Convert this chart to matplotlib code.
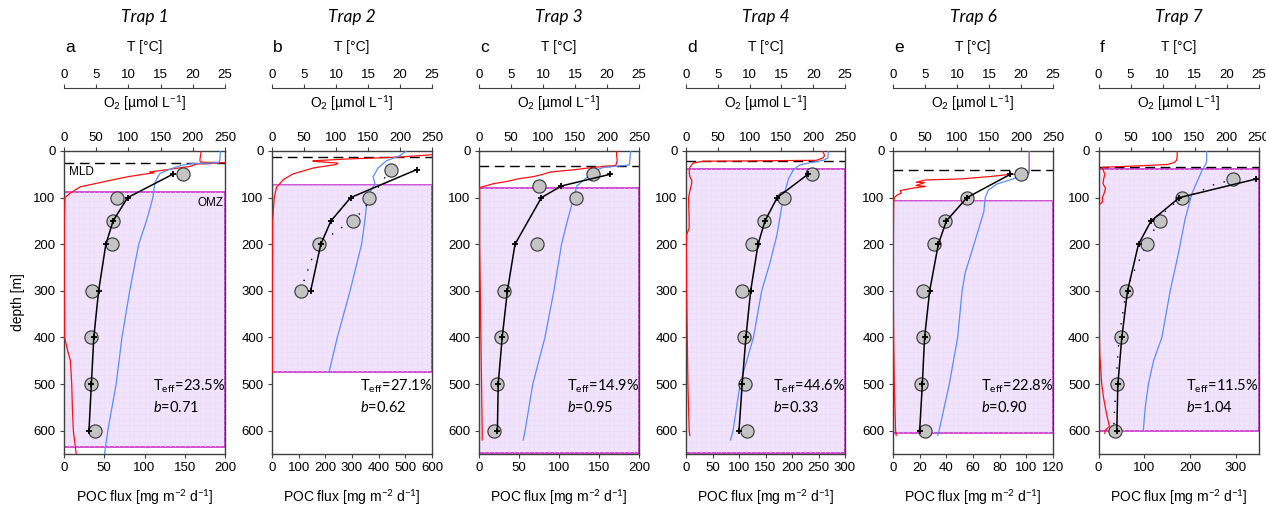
import matplotlib.pyplot as plt
import matplotlib.patches as mpatches
import numpy as np

plt.rcParams['font.family'] = ['Liberation Sans', 'DejaVu Sans']
plt.rcParams['mathtext.fontset'] = 'custom'
plt.rcParams['mathtext.rm'] = 'Lato'
plt.rcParams['mathtext.it'] = 'Lato:italic'

titles = ['Trap 1', 'Trap 2', 'Trap 3', 'Trap 4', 'Trap 6', 'Trap 7']
letters = ['a', 'b', 'c', 'd', 'e', 'f']
poc_xlim = [200, 600, 200, 300, 120, 350]
poc_ticks = [[0, 50, 100, 150, 200], [0, 100, 200, 300, 400, 500, 600],
             [0, 50, 100, 150, 200], [0, 50, 100, 150, 200, 250, 300],
             [0, 20, 40, 60, 80, 100, 120], [0, 100, 200, 300]]
teff = ['23.5', '27.1', '14.9', '44.6', '22.8', '11.5']
b_exp = ['0.71', '0.62', '0.95', '0.33', '0.90', '1.04']
mld = [25, 13, 33, 21, 40, 34]
omz_top = [88, 72, 80, 38, 107, 38]
omz_bot = [635, 475, 648, 648, 605, 600]

# POC flux: observed (circles) and model (+)
depth_a = [50, 100, 150, 200, 300, 400, 500, 600]
obs_a = [148, 66, 61, 60, 35, 34, 34, 39]
mod_a = [135, 79, 61, 52, 43, 37, 34, 31]
depth_b = [40, 100, 150, 200, 300]
obs_b = [446, 365, 305, 178, 108]
mod_b = [542, 295, 221, 183, 145]
depth_c = [50, 75, 100, 200, 300, 400, 500, 600]
obs_c = [142, 75, 121, 72, 31, 27, 23, 19]
mod_c = [164, 103, 78, 45, 35.5, 29, 24, 23]
depth_d = [50, 100, 150, 200, 300, 400, 500, 600]
obs_d = [237, 184, 147, 124, 105, 110, 111, 115]
mod_d = [230, 172, 149, 136, 122, 113, 106, 100]
depth_e = [50, 100, 150, 200, 300, 400, 500, 600]
obs_e = [96, 55.5, 39, 31, 22.5, 22.5, 21, 24]
mod_e = [88, 55.5, 40, 34, 27.5, 23.7, 22, 20]
depth_f = [60, 100, 150, 200, 300, 400, 500, 600]
obs_f = [295, 182, 135, 107, 60.6, 49, 40, 35]
mod_f = [345, 177, 115, 87.5, 63.5, 51, 42.4, 40]

# dotted fits (panels b and f)
dot_depth_b = [40, 58, 131, 168, 185, 232, 258, 282, 300]
dot_b = [455, 422, 337, 253, 210, 149, 133, 118, 105]
dot_depth_f = [60, 71, 83, 100, 119, 150, 168, 200, 218, 245, 270, 300, 315, 400, 500, 600]
dot_f = [300, 255, 230, 190, 155, 130, 122, 105, 97, 84, 72, 62, 58, 45, 38, 33]

# O2 profiles [umol/L]
o2_depth_a = [0, 10, 20, 24, 25, 28, 33, 40, 45, 47, 49, 55, 60, 71, 77, 91, 100, 150, 200,
              300, 400, 430, 450, 500, 550, 600, 650]
o2_a = [213, 212, 211, 212, 250, 206, 196, 160, 133, 140, 128, 100, 82, 45, 25, 9, 1.5, 0.5,
        0.5, 0.5, 1, 6, 10, 12, 13, 14.5, 19]
o2_depth_b = [8, 13, 17, 21, 22, 26, 29, 36, 49, 61, 78, 100, 150, 300, 475]
o2_b = [250, 200, 120, 64, 64, 103, 100, 66, 33, 18, 7, 3.5, 1, 0.5, 0.5]
o2_depth_c = [0, 10, 20, 30, 31, 35, 40, 45, 50, 55, 60, 65, 70, 75, 78, 80, 100, 200, 300,
              400, 500, 600, 620]
o2_c = [215, 215, 216, 214, 214, 180, 150, 112, 100, 85, 60, 45, 23, 10, 2, 1, 1, 1, 2, 3,
        4, 5, 5]
o2_depth_d = [0, 10, 15, 20, 22, 26, 35, 45, 55, 63, 70, 80, 100, 150, 165, 180, 200, 300,
              400, 500, 600, 610]
o2_d = [215, 218, 215, 205, 27, 11, 6, 5, 6, 9, 9, 7, 4, 5, 5, 1, 0.5, 1, 2, 3, 5, 6]
o2_depth_e = [0, 20, 40, 48, 50, 55, 60, 62, 67, 68, 74, 76, 80, 85, 90, 95, 100, 110, 200,
              300, 400, 500, 600, 610]
o2_e = [213, 213, 213, 212, 183, 150, 105, 52, 36, 49, 36, 51, 30, 11, 13, 6, 2, 1, 0.5,
        0.5, 1, 2, 4, 5]
o2_depth_f = [0, 10, 20, 25, 29, 32, 35, 40, 50, 60, 70, 80, 90, 100, 110, 115, 200, 300,
              400, 435, 500, 530, 560, 591, 600, 606]
o2_f = [123, 123, 122, 118, 107, 60, 5, 7, 10, 8, 7, 11, 9, 6, 6, 1, 0.5, 0.5, 1.5, 2, 5,
        8, 12, 17, 10, 10]

# temperature profiles [deg C]
t_depth_a = [0, 20, 25, 27, 30, 34, 40, 48, 60, 70, 100, 150, 200, 300, 400, 500, 600, 650]
t_a = [24.3, 24.2, 24.0, 20, 18.5, 17.5, 16.3, 14.9, 14.4, 14.1, 13.8, 12.8, 11.6, 10.2,
       9.0, 8.1, 6.8, 6.3]
t_depth_b = [0, 10, 21, 36, 55, 71, 85, 100, 150, 200, 300, 400, 475]
t_b = [21, 20, 17.9, 16.6, 15.8, 16.1, 15.4, 14.9, 14.5, 14.0, 12.2, 10.2, 8.9]
t_depth_c = [0, 30, 33, 35, 40, 50, 75, 100, 150, 200, 300, 400, 500, 600, 620]
t_c = [23.7, 23.5, 21, 19.5, 18.5, 17.4, 15.3, 14.8, 13.8, 12.9, 11.7, 10.3, 8.4, 7.2, 6.9]
t_depth_d = [0, 15, 20, 25, 30, 40, 60, 100, 180, 240, 300, 400, 500, 600, 620]
t_d = [22.4, 22.3, 21.6, 19.5, 17.9, 16.9, 16.1, 15.3, 14.3, 13.2, 11.9, 10.6, 8.5, 7.4, 7.0]
t_depth_e = [0, 20, 40, 50, 57, 71, 84, 100, 130, 180, 225, 260, 300, 400, 500, 600, 610]
t_e = [21.3, 21.3, 21.3, 21.2, 19.4, 16.2, 14.9, 14.4, 14.2, 13.1, 12.1, 11.3, 10.8, 10.1,
       8.8, 7.2, 7.0]
t_depth_f = [0, 20, 27, 41, 91, 148, 219, 300, 400, 450, 500, 550, 600]
t_f = [16.9, 16.9, 16.8, 16.2, 14.6, 13.5, 12.5, 11.2, 9.9, 8.6, 7.8, 7.3, 7.0]

depths = [depth_a, depth_b, depth_c, depth_d, depth_e, depth_f]
obs = [obs_a, obs_b, obs_c, obs_d, obs_e, obs_f]
mods = [mod_a, mod_b, mod_c, mod_d, mod_e, mod_f]
o2_depths = [o2_depth_a, o2_depth_b, o2_depth_c, o2_depth_d, o2_depth_e, o2_depth_f]
o2s = [o2_a, o2_b, o2_c, o2_d, o2_e, o2_f]
t_depths = [t_depth_a, t_depth_b, t_depth_c, t_depth_d, t_depth_e, t_depth_f]
ts = [t_a, t_b, t_c, t_d, t_e, t_f]
dots = {1: (dot_depth_b, dot_b), 5: (dot_depth_f, dot_f)}

W, H = 1266, 508
fig = plt.figure(figsize=(W / 100, H / 100), dpi=100)

lefts = [64, 272, 479, 686, 893, 1098.5]
widths = [161, 160, 160, 159, 160, 160]
ax_top, ax_bot = 151, 454
spine_c = '#404040'

for i in range(6):
    l = lefts[i] / W
    w = widths[i] / W
    ax = fig.add_axes([l, 1 - ax_bot / H, w, (ax_bot - ax_top) / H])
    ax.set_xlim(0, poc_xlim[i])
    ax.set_ylim(650, 0)
    ax.set_xticks(poc_ticks[i])
    ax.set_yticks(range(0, 601, 100))
    ax.tick_params(labelsize=9.5, length=3, color=spine_c, pad=3)
    for s in ax.spines.values():
        s.set_color(spine_c)
        s.set_linewidth(1)
    ax.set_xlabel('POC flux [mg m$^{-2}$ d$^{-1}$]', fontsize=10, labelpad=10)
    if i == 0:
        ax.set_ylabel('depth [m]', fontsize=10, labelpad=6)

    # OMZ shading
    rect = mpatches.Rectangle((0, omz_top[i]), poc_xlim[i], omz_bot[i] - omz_top[i],
                              facecolor='#f1e3fc', edgecolor='#cc33cc', lw=1.2, zorder=0)
    ax.add_patch(rect)
    for gx in np.linspace(0, poc_xlim[i], 33):
        ln = ax.axvline(gx, color='#eadbf8', lw=0.4, zorder=0.5)
        ln.set_clip_path(rect)
    for gy in range(0, 651, 12):
        ln = ax.axhline(gy, color='#eadbf8', lw=0.4, zorder=0.5)
        ln.set_clip_path(rect)

    # MLD
    ax.axhline(mld[i], color='black', lw=1, dashes=(7, 4), zorder=2)

    # O2 and temperature on twin axes
    ax_o2 = ax.twiny()
    ax_o2.set_xlim(0, 250)
    ax_o2.set_xticks([0, 50, 100, 150, 200, 250])
    ax_o2.tick_params(labelsize=9.5, length=3, color=spine_c, pad=2)
    for s in ax_o2.spines.values():
        s.set_visible(False)
    ax_o2.plot(o2s[i], o2_depths[i], color='#ff1010', lw=0.9, zorder=3)

    ax_t = ax.twiny()
    ax_t.set_xlim(0, 25)
    ax_t.axis('off')
    ax_t.plot(ts[i], t_depths[i], color='#5a8ef5', lw=0.9, zorder=3)

    # POC flux on top
    ax_p = ax.twiny()
    ax_p.set_xlim(0, poc_xlim[i])
    ax_p.set_ylim(650, 0)
    ax_p.axis('off')
    if i in dots:
        dd, dv = dots[i]
        ax_p.plot(dv, dd, color='black', lw=1.0, linestyle=(0, (1, 7)), zorder=4)
    ax_p.plot(mods[i], depths[i], color='black', lw=1.1, marker='+', ms=5, mew=1.3, zorder=5)
    ax_p.plot(obs[i], depths[i], 'o', color='#c4c4c4', mec='#333333', mew=0.8, ms=9.5,
              zorder=4.5)

    ax_p.text(0.55, 505, r'T$_{\mathrm{eff}}$=' + teff[i] + '%', transform=ax_p.get_yaxis_transform(),
              fontsize=10.5, family='Lato', va='center')
    ax_p.text(0.55, 550, r'$b$=' + b_exp[i], transform=ax_p.get_yaxis_transform(),
              fontsize=10.5, family='Lato', va='center')

    if i == 0:
        ax_p.text(0.03, mld[i] + 7, 'MLD', transform=ax_p.get_yaxis_transform(),
                  fontsize=8.5, va='top', ha='left')
        ax_p.text(0.99, omz_top[i] + 10, 'OMZ', transform=ax_p.get_yaxis_transform(),
                  fontsize=8.5, va='top', ha='right')

    # separate temperature axis above
    axT = fig.add_axes([l, 1 - 88 / H, w, 0.0005])
    axT.set_xlim(0, 25)
    axT.set_xticks([0, 5, 10, 15, 20, 25])
    axT.set_yticks([])
    for k in ['left', 'right', 'bottom']:
        axT.spines[k].set_visible(False)
    axT.spines['top'].set_color(spine_c)
    axT.xaxis.set_ticks_position('top')
    axT.xaxis.set_label_position('top')
    axT.tick_params(labelsize=9.5, length=3, color=spine_c, pad=2)
    axT.patch.set_visible(False)

    cx = (lefts[i] + widths[i] / 2) / W
    fig.text(cx, 1 - 104 / H, r'O$_2$ [µmol L$^{-1}$]', ha='center', va='center',
             fontsize=10, family='Liberation Sans')
    fig.text(cx, 1 - 47 / H, 'T [°C]', ha='center', va='center', fontsize=10)
    fig.text(cx, 1 - 17 / H, titles[i], ha='center', va='center', fontsize=12.5,
             family='Lato', style='italic')
    fig.text((lefts[i] + 1) / W, 1 - 47 / H, letters[i], ha='left', va='center', fontsize=12.5)

fig.savefig('out.png', dpi=100)
